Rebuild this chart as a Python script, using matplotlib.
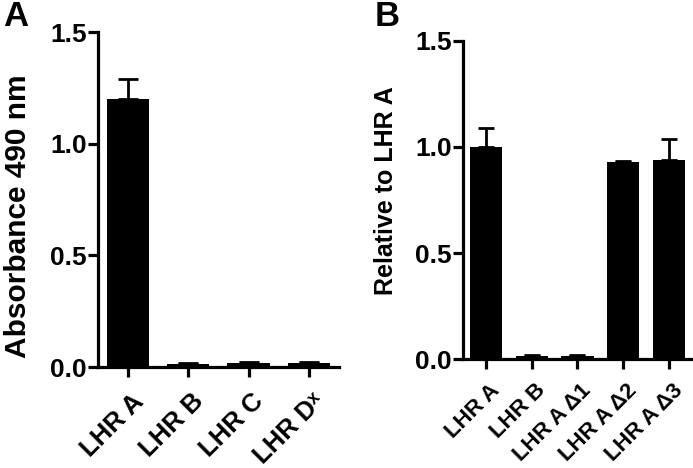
import matplotlib
matplotlib.use("Agg")
import matplotlib.pyplot as plt
import matplotlib.transforms as mtransforms
import numpy as np

plt.rcParams['font.family'] = ['Liberation Sans', 'DejaVu Sans']
plt.rcParams['font.weight'] = 'bold'

# Panel A data
cats_a = ["LHR A", "LHR B", "LHR C", "LHR D\u02e3"]
vals_a = [1.20, 0.015, 0.016, 0.016]
errs_a = [0.09, 0.005, 0.005, 0.005]

# Panel B data
cats_b = ["LHR A", "LHR B", "LHR A \u03941", "LHR A \u03942", "LHR A \u03943"]
vals_b = [1.00, 0.015, 0.016, 0.93, 0.94]
errs_b = [0.09, 0.005, 0.005, 0.005, 0.10]

yticks = [0.0, 0.5, 1.0, 1.5]

fig = plt.figure(figsize=(6.93, 4.68), dpi=100)
axA = fig.add_axes([0.1414, 0.2158, 0.489 - 0.1414, 0.9316 - 0.2158])
axB = fig.add_axes([0.668, 0.2329, 0.9986 - 0.668, 0.9124 - 0.2329])

def style(ax, cats, vals, errs, capsize, ylabel, xfs, yfs, lpos, xpad):
    x = np.arange(len(cats))
    ax.bar(x, vals, width=0.7, color='black')
    ax.errorbar(x, vals, yerr=[np.zeros(len(errs)), errs], fmt='none',
                ecolor='black', elinewidth=2.0, capsize=capsize, capthick=2.0)
    ax.set_xlim(-0.5, len(cats) - 0.5)
    ax.set_ylim(0, 1.5)
    ax.set_yticks(yticks)
    ax.set_yticklabels([f"{v:.1f}" for v in yticks])
    ax.set_xticks(x)
    ax.set_xticklabels(cats, rotation=45, ha='right', rotation_mode='anchor',
                       fontsize=xfs, fontweight='bold')
    for s in ['top', 'right']:
        ax.spines[s].set_visible(False)
    for s in ['left', 'bottom']:
        ax.spines[s].set_linewidth(2.3)
    ax.tick_params(axis='both', direction='out', length=7, width=2.3,
                   labelsize=19)
    ax.tick_params(axis='x', pad=xpad)
    ax.tick_params(axis='y', pad=1)
    offset = mtransforms.ScaledTranslation(3 / 100, 0, fig.dpi_scale_trans)
    for lab in ax.get_yticklabels():
        lab.set_fontweight('bold')
    for lab in ax.get_xticklabels():
        lab.set_fontsize(xfs)
        lab.set_transform(lab.get_transform() + offset)
    ax.set_ylabel(ylabel, fontsize=yfs, fontweight='bold')
    ax.yaxis.set_label_coords(lpos[0], lpos[1])

style(axA, cats_a, vals_a, errs_a, 7.5, "Absorbance 490 nm", 18.5, 21.5, (-0.275, 0.45), 9)
style(axB, cats_b, vals_b, errs_b, 6.0, "Relative to LHR A", 16, 18, (-0.283, 0.53), 8)

fig.text(0.005, 1.0, "A", fontsize=25, fontweight='bold', va='top', ha='left')
fig.text(0.540, 1.0, "B", fontsize=25, fontweight='bold', va='top', ha='left')

fig.savefig("out.png", dpi=100)
